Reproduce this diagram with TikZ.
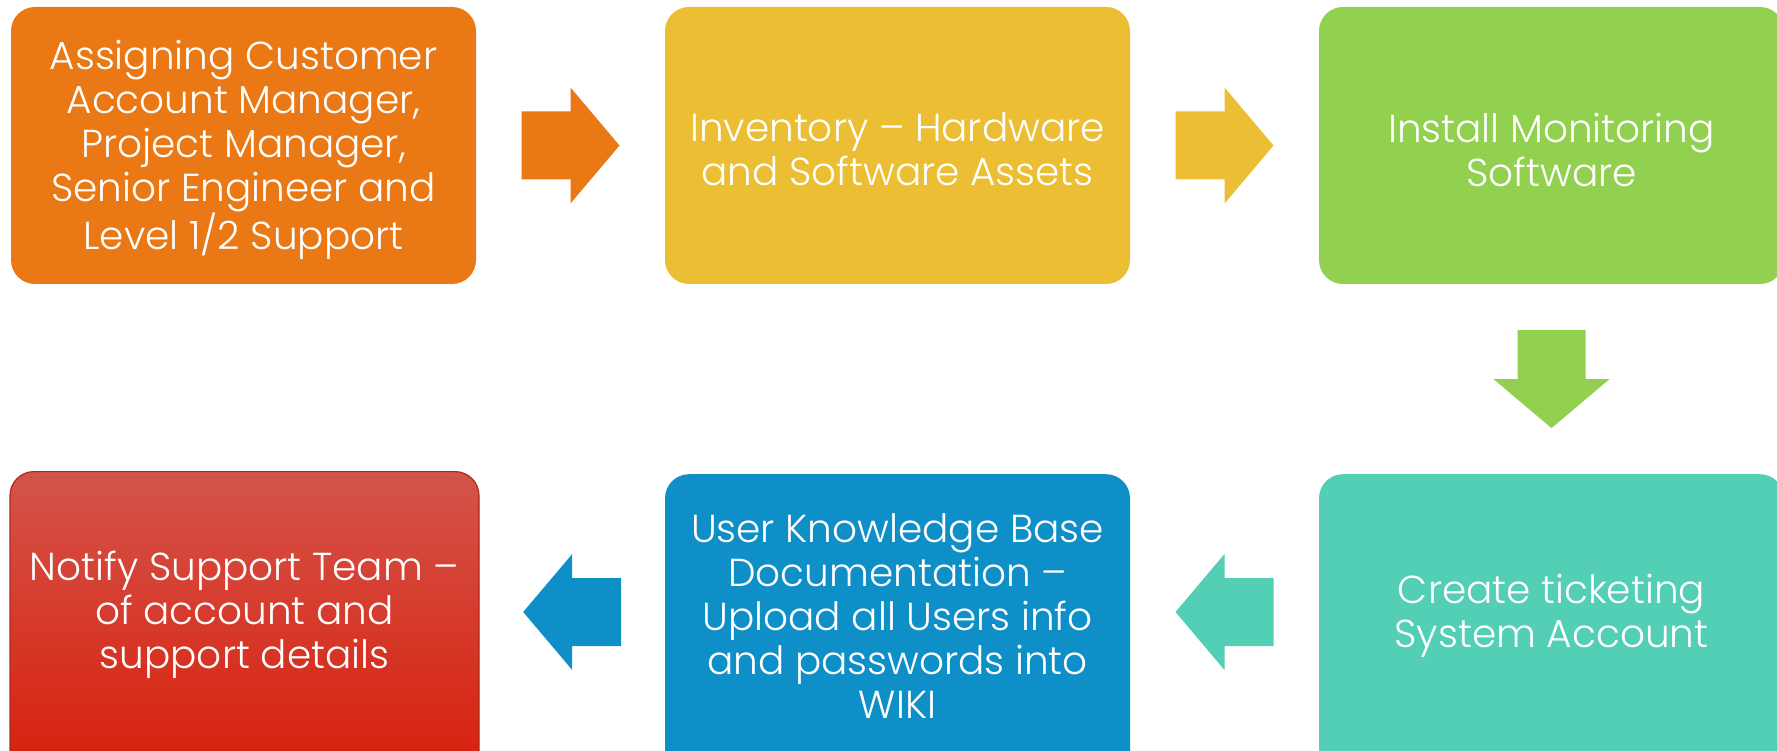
\documentclass[tikz,border=0pt]{standalone}
\usepackage{fontspec}
\IfFontExistsTF{Poppins Light}{\setmainfont{Poppins Light}}{\setmainfont{Poppins}}
\usetikzlibrary{calc}
\definecolor{cOrange}{RGB}{233,120,21}
\definecolor{cYellow}{RGB}{235,190,51}
\definecolor{cGreen}{RGB}{146,208,80}
\definecolor{cTeal}{RGB}{82,207,180}
\definecolor{cBlue}{RGB}{15,143,200}
\definecolor{cRedTop}{RGB}{212,84,74}
\definecolor{cRedBot}{RGB}{216,28,8}
\definecolor{cRedLine}{RGB}{175,40,25}
\begin{document}
\begin{tikzpicture}[x=1pt,y=1pt,
  box/.style={rectangle, rounded corners=24pt, minimum width=465pt, minimum height=277pt, inner sep=0pt},
  txt/.style={text=white, align=center, font=\fontsize{39}{44}\selectfont, inner sep=0pt, yshift=-4pt},
  blockarrow/.pic={\path[pic actions] (-49,34) -- (0,34) -- (0,58) -- (49,0) -- (0,-58) -- (0,-34) -- (-49,-34) -- cycle;}
]
\useasboundingbox (0,0) rectangle (1777,-751);
% top row
\node[box, fill=cOrange] (b1) at (243.5,-145.5) {};
\node[txt] (t1) at (b1.center) {Assigning Customer\\Account Manager,\\Project Manager,\\Senior Engineer and\\Level 1/2 Support};
\node[box, fill=cYellow] (b2) at (897.5,-145.5) {};
\node[txt] (t2) at (b2.center) {Inventory -- Hardware\\and Software Assets};
\node[box, fill=cGreen] (b3) at (1551.5,-145.5) {};
\node[txt] (t3) at (b3.center) {Install Monitoring\\Software};
% bottom row
\node[box, fill=cTeal, minimum height=320pt, anchor=north] (b4) at (1551.5,-474) {};
\node[txt] (t4) at (1551.5,-612) {Create ticketing\\System Account};
\node[box, fill=cBlue, minimum height=320pt, anchor=north] (b5) at (897.5,-474) {};
\node[txt] (t5) at (897.5,-612) {User Knowledge Base\\Documentation --\\Upload all Users info\\and passwords into\\WIKI};
\node[box, top color=cRedTop, bottom color=cRedBot, draw=cRedLine, line width=1.2pt, minimum width=469pt, minimum height=320pt, anchor=north] (b6) at (244.5,-471) {};
\node[txt] (t6) at (244.5,-611) {Notify Support Team --\\of account and\\support details};
% arrows
\coordinate (a1) at ($(b1.east)!0.5!(b2.west)$);
\coordinate (a2) at ($(b2.east)!0.5!(b3.west)$);
\coordinate (a3) at ($(b3.south)!0.5!(b4.north)$);
\coordinate (m4) at ($(b5.east)!0.5!(b4.west)$);
\coordinate (p4) at (m4 |- t4);
\coordinate (a4) at ($(p4)+(0,4)$);
\coordinate (m5) at ($(b6.east)!0.5!(b5.west)$);
\coordinate (a5) at (m5 |- a4);
\pic[fill=cOrange] at (a1) {blockarrow};
\pic[fill=cYellow] at (a2) {blockarrow};
\pic[fill=cGreen, rotate=-90] at (a3) {blockarrow};
\pic[fill=cTeal, rotate=180] at (a4) {blockarrow};
\pic[fill=cBlue, rotate=180] at (a5) {blockarrow};
\end{tikzpicture}
\end{document}
